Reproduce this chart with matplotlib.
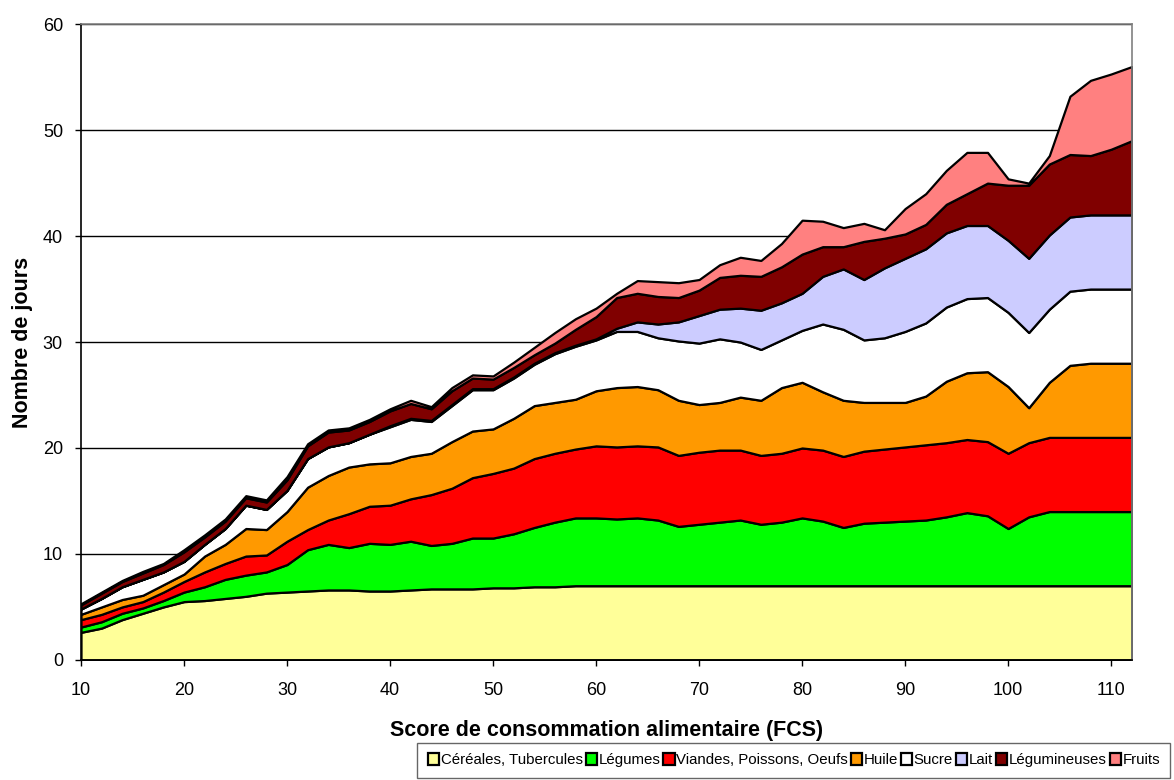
import numpy as np
import matplotlib.pyplot as plt

plt.rcParams['font.family'] = ['Liberation Sans', 'DejaVu Sans']

# Score de consommation alimentaire (FCS)
fcs = [10, 12, 14, 16, 18, 20, 22, 24, 26, 28, 30, 32, 34, 36, 38, 40, 42, 44,
       46, 48, 50, 52, 54, 56, 58, 60, 62, 64, 66, 68, 70, 72, 74, 76, 78, 80,
       82, 84, 86, 88, 90, 92, 94, 96, 98, 100, 102, 104, 106, 108, 110, 112]

# nombre de jours par groupe d'aliments
cereales = [2.6, 3.0, 3.8, 4.4, 5.0, 5.5, 5.6, 5.8, 6.0, 6.3, 6.4, 6.5, 6.6, 6.6, 6.5, 6.5, 6.6, 6.7,
            6.7, 6.7, 6.8, 6.8, 6.9, 6.9, 7.0, 7.0, 7.0, 7.0, 7.0, 7.0, 7.0, 7.0, 7.0, 7.0, 7.0, 7.0,
            7.0, 7.0, 7.0, 7.0, 7.0, 7.0, 7.0, 7.0, 7.0, 7.0, 7.0, 7.0, 7.0, 7.0, 7.0, 7.0]
legumes = [0.5, 0.6, 0.6, 0.5, 0.6, 0.9, 1.3, 1.8, 2.0, 2.0, 2.6, 3.9, 4.3, 4.0, 4.5, 4.4, 4.6, 4.1,
           4.3, 4.8, 4.7, 5.1, 5.6, 6.1, 6.4, 6.4, 6.3, 6.4, 6.2, 5.6, 5.8, 6.0, 6.2, 5.8, 6.0, 6.4,
           6.1, 5.5, 5.9, 6.0, 6.1, 6.2, 6.5, 6.9, 6.6, 5.4, 6.5, 7.0, 7.0, 7.0, 7.0, 7.0]
viandes = [0.7, 0.7, 0.6, 0.6, 0.8, 1.0, 1.4, 1.5, 1.8, 1.6, 2.2, 1.9, 2.3, 3.2, 3.5, 3.7, 4.0, 4.8,
           5.2, 5.7, 6.1, 6.2, 6.5, 6.5, 6.5, 6.8, 6.8, 6.8, 6.9, 6.7, 6.8, 6.8, 6.6, 6.5, 6.5, 6.6,
           6.7, 6.7, 6.8, 6.9, 7.0, 7.1, 7.0, 6.9, 7.0, 7.1, 7.0, 7.0, 7.0, 7.0, 7.0, 7.0]
huile = [0.5, 0.7, 0.7, 0.6, 0.7, 0.7, 1.5, 1.8, 2.6, 2.4, 2.8, 4.0, 4.2, 4.4, 4.0, 4.0, 4.0, 3.9,
         4.4, 4.4, 4.2, 4.7, 5.0, 4.8, 4.7, 5.2, 5.6, 5.6, 5.4, 5.2, 4.5, 4.5, 5.0, 5.2, 6.2, 6.2,
         5.5, 5.3, 4.6, 4.4, 4.2, 4.6, 5.8, 6.3, 6.6, 6.3, 3.3, 5.2, 6.8, 7.0, 7.0, 7.0]
sucre = [0.5, 0.8, 1.2, 1.5, 1.2, 1.2, 1.1, 1.5, 2.2, 1.9, 2.0, 2.7, 2.7, 2.3, 2.8, 3.4, 3.5, 3.0,
         3.4, 3.9, 3.7, 3.8, 3.9, 4.6, 5.0, 4.8, 5.3, 5.2, 4.9, 5.6, 5.8, 6.0, 5.2, 4.8, 4.5, 4.9,
         6.4, 6.7, 5.9, 6.1, 6.7, 6.9, 7.0, 7.0, 7.0, 7.0, 7.1, 6.9, 7.0, 7.0, 7.0, 7.0]
lait = [0.0, 0.0, 0.0, 0.0, 0.0, 0.0, 0.0, 0.0, 0.0, 0.0, 0.0, 0.0, 0.0, 0.0, 0.0, 0.1, 0.1, 0.1,
        0.1, 0.1, 0.1, 0.1, 0.1, 0.1, 0.1, 0.1, 0.3, 0.9, 1.3, 1.8, 2.6, 2.8, 3.2, 3.7, 3.5, 3.5,
        4.5, 5.7, 5.7, 6.6, 6.9, 7.0, 7.0, 6.9, 6.8, 6.8, 7.0, 7.0, 7.0, 7.0, 7.0, 7.0]
legumineuses = [0.4, 0.5, 0.5, 0.6, 0.7, 0.9, 0.7, 0.7, 0.7, 0.7, 1.0, 1.2, 1.4, 1.2, 1.2, 1.4, 1.4, 1.1,
                1.3, 1.0, 0.9, 0.9, 0.8, 0.9, 1.5, 2.1, 2.9, 2.7, 2.6, 2.3, 2.4, 3.0, 3.1, 3.2, 3.4, 3.7,
                2.8, 2.1, 3.6, 2.8, 2.3, 2.3, 2.7, 3.0, 4.0, 5.2, 6.9, 6.7, 5.9, 5.6, 6.2, 7.0]
fruits = [0.1, 0.1, 0.1, 0.15, 0.1, 0.2, 0.2, 0.2, 0.2, 0.2, 0.3, 0.2, 0.2, 0.2, 0.2, 0.2, 0.3, 0.2,
          0.3, 0.3, 0.3, 0.5, 0.7, 1.0, 1.0, 0.8, 0.4, 1.2, 1.4, 1.4, 1.0, 1.2, 1.7, 1.5, 2.2, 3.2,
          2.4, 1.8, 1.7, 0.8, 2.4, 2.9, 3.2, 3.9, 2.9, 0.6, 0.2, 0.8, 5.5, 7.1, 7.1, 7.0]

labels = ['Céréales, Tubercules', 'Légumes', 'Viandes, Poissons, Oeufs', 'Huile',
          'Sucre', 'Lait', 'Légumineuses', 'Fruits']
colors = ['#FFFF99', '#00FF00', '#FF0000', '#FF9900',
          '#FFFFFF', '#CCCCFF', '#800000', '#FF8080']

fig = plt.figure(figsize=(11.74, 7.80), dpi=100)
ax = fig.add_axes([0.069, 0.154, 0.895, 0.815])

series = [cereales, legumes, viandes, huile, sucre, lait, legumineuses, fruits]
polys = ax.stackplot(fcs, *series, colors=colors, labels=labels,
                     edgecolor='black', linewidth=1.6, zorder=2)

ax.set_xlim(10, 112)
ax.set_ylim(0, 60)
ax.set_xticks(range(10, 111, 10))
ax.set_yticks(range(0, 61, 10))
ax.yaxis.grid(True, color='black', linewidth=1.0, zorder=0)
ax.set_axisbelow(True)

ax.tick_params(axis='both', direction='out', length=4, width=1, labelsize=13, colors='black')
ax.tick_params(axis='x', pad=12)
ax.tick_params(axis='y', pad=9)

for s in ['left', 'bottom']:
    ax.spines[s].set_color('black')
    ax.spines[s].set_linewidth(1.2)
for s in ['top', 'right']:
    ax.spines[s].set_color('#808080')
    ax.spines[s].set_linewidth(1.2)

ax.set_xlabel('Score de consommation alimentaire (FCS)', fontsize=15.5, fontweight='bold', labelpad=15)
ax.set_ylabel('Nombre de jours', fontsize=15.5, fontweight='bold', labelpad=7)

leg = fig.legend(handles=polys, labels=labels, loc='lower right', bbox_to_anchor=(0.997, 0.003),
                 ncol=8, fontsize=10.8, frameon=True, fancybox=False, edgecolor='#404040',
                 handlelength=0.75, handleheight=0.8, handletextpad=0.1, columnspacing=0.2,
                 borderpad=0.7, borderaxespad=0)
leg.get_frame().set_linewidth(1.0)

fig.savefig('out.png', dpi=100)
